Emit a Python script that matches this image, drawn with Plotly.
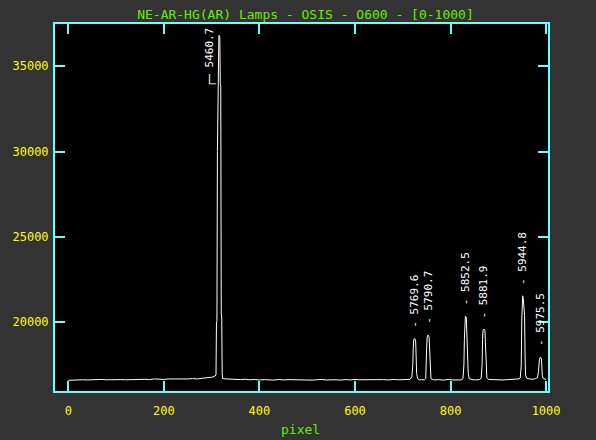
import plotly.graph_objects as go

# ---- data ----
pixel = [0, 10, 20, 30, 40, 50, 60, 70, 80, 90, 100, 110, 120, 130, 140, 150, 160, 170, 180, 190,
         200, 210, 220, 230, 240, 250, 260, 270, 280, 290, 295, 300, 305, 308,
         309, 310, 311, 312, 313, 314, 315, 316, 317, 318, 319, 320, 321, 322, 323,
         330, 340, 350, 360, 370, 380, 390, 400, 410, 420, 430, 440, 450, 460, 470, 480, 490,
         500, 510, 520, 530, 540, 550, 560, 570, 580, 590, 600, 610, 620, 630, 640, 650, 660,
         670, 680, 690, 700, 710,
         715, 719, 721, 722, 723, 725, 727, 728, 729, 731, 735, 740,
         745, 748, 749, 750, 751, 753, 755, 756, 757, 759, 765, 775, 785, 795, 805, 815,
         822, 826, 828, 829, 830, 831, 833, 834, 835, 836, 837, 839, 845, 852,
         860, 864, 866, 867, 868, 870, 872, 873, 874, 876, 880, 890, 900, 910, 920, 930, 938,
         943, 946, 948, 949, 950, 951, 952, 953, 954, 955, 956, 957, 960, 966, 972,
         978, 982, 984, 986, 988, 990, 991, 992, 994, 997, 1000]
counts = [16600, 16620, 16610, 16630, 16620, 16640, 16620, 16650, 16630, 16640, 16660, 16640, 16630,
          16650, 16670, 16650, 16660, 16640, 16680, 16660,
          16650, 16680, 16670, 16690, 16660, 16680, 16700, 16680, 16720, 16740, 16760, 16780, 16820, 16850,
          16900, 20000, 20100, 30000, 34500, 36600, 36800, 36800, 36700, 34000, 33800, 20500, 20300, 17000, 16700,
          16680, 16660, 16650, 16640, 16660, 16630, 16650, 16620, 16640, 16630, 16610, 16650, 16620, 16640,
          16630, 16650, 16620,
          16640, 16610, 16630, 16650, 16620, 16640, 16630, 16610, 16640, 16620, 16650, 16630, 16640, 16620,
          16650, 16630, 16640,
          16620, 16650, 16630, 16640, 16620,
          16650, 16800, 17500, 18500, 19000, 19050, 18900, 18000, 17000, 16700, 16620, 16640,
          16620, 16700, 17200, 18500, 19100, 19250, 19150, 18500, 17200, 16700, 16620, 16640, 16610, 16650, 16620, 16640,
          16620, 16700, 17500, 19000, 20000, 20350, 20300, 19500, 19000, 18500, 17000, 16700, 16640, 16620,
          16640, 16700, 17500, 19000, 19550, 19600, 19500, 18800, 17500, 16750, 16650, 16630, 16650, 16620, 16640, 16660, 16650,
          16680, 16750, 17500, 20000, 21400, 21550, 21450, 20800, 20600, 20400, 18000, 16900, 16700, 16680, 16660,
          16700, 16750, 17100, 17800, 17950, 17900, 17500, 16900, 16700, 16680, 16650]

line_labels = ["5460.7", "5769.6", "5790.7", "5852.5", "5881.9", "5944.8", "5975.5"]
line_pixel = [315, 725, 753, 831, 870, 951, 988]
line_peak = [36800, 19050, 19250, 20350, 19600, 21550, 17950]

x_ticks = [0, 200, 400, 600, 800, 1000]
y_ticks = [20000, 25000, 30000, 35000]

CYAN = "#66ffff"
YELLOW = "#ffff00"
GREEN = "#66ee00"
FONT = "DejaVu Sans Mono"

fig = go.Figure()
fig.add_trace(go.Scatter(x=pixel, y=counts, mode="lines",
                         line=dict(color="white", width=1), hoverinfo="skip"))

annotations = []
for i, (lab, xp, yp) in enumerate(zip(line_labels, line_pixel, line_peak)):
    if i == 0:
        annotations.append(dict(x=xp, y=yp, xref="x", yref="y", text="┌─ " + lab,
                                textangle=-90, showarrow=False, xanchor="center", yanchor="bottom",
                                xshift=-9, yshift=-54,
                                font=dict(family=FONT, size=11, color="white")))
    else:
        annotations.append(dict(x=xp, y=yp, xref="x", yref="y", text="- " + lab,
                                textangle=-90, showarrow=False, xanchor="center", yanchor="bottom",
                                yshift=9,
                                font=dict(family=FONT, size=11, color="white")))

annotations.append(dict(text="pixel", xref="paper", yref="paper", x=0.497, y=0,
                        yshift=-38, yanchor="middle", xanchor="center", showarrow=False,
                        font=dict(family=FONT, size=13, color=GREEN)))

fig.update_layout(
    width=596, height=440,
    margin=dict(l=53, r=48, t=24, b=49),
    paper_bgcolor="#333333", plot_bgcolor="black",
    showlegend=False,
    title=dict(text="NE-AR-HG(AR) Lamps - OSIS - O600 - [0-1000]",
               x=0.508, xref="paper", y=1 - 14 / 440, yref="container",
               xanchor="center", yanchor="middle",
               font=dict(family=FONT, size=13, color=GREEN)),
    annotations=annotations,
    xaxis=dict(range=[-28, 1004], tickvals=x_ticks, ticks="inside", ticklen=10, tickwidth=2,
               tickcolor=CYAN, showline=True, linecolor=CYAN, linewidth=2, mirror="ticks",
               showgrid=False, zeroline=False, ticklabelstandoff=8,
               tickfont=dict(family=FONT, size=12, color=YELLOW)),
    yaxis=dict(range=[15973, 37474], tickvals=y_ticks, tickformat="d", ticks="inside",
               ticklen=10, tickwidth=2,
               tickcolor=CYAN, showline=True, linecolor=CYAN, linewidth=2, mirror="ticks",
               showgrid=False, zeroline=False, ticklabelstandoff=2,
               tickfont=dict(family=FONT, size=12, color=YELLOW)),
)

fig.write_html("out.html", config={"displayModeBar": False},
               post_script="document.body.style.margin='0';")
